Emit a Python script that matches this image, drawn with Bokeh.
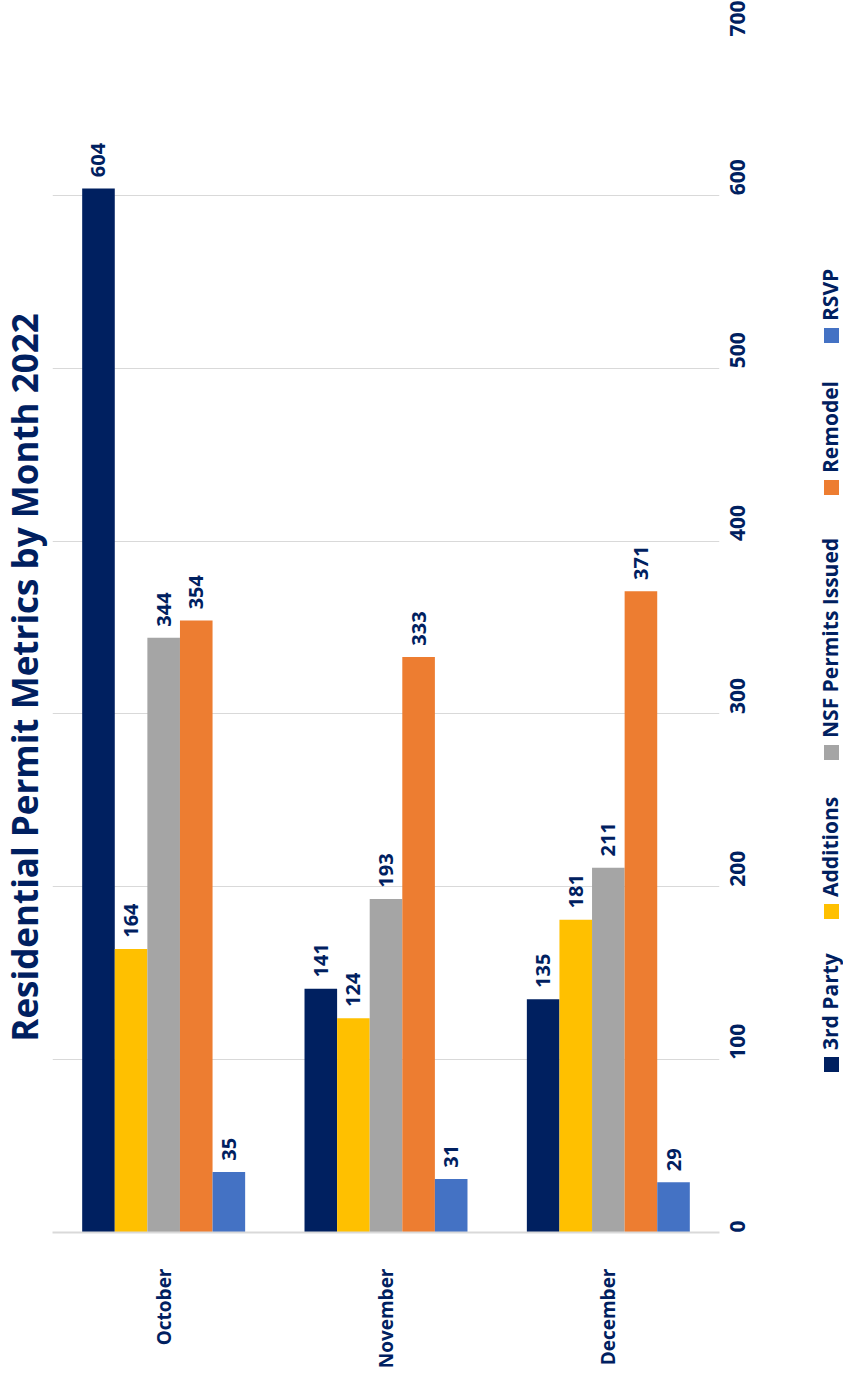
from math import pi
from bokeh.plotting import figure
from bokeh.models import ColumnDataSource, FactorRange, Range1d, FixedTicker
from bokeh.transform import dodge
from bokeh.layouts import row
from bokeh.embed import file_html
from bokeh.resources import INLINE
from bokeh.core.properties import value

months = ["October", "November", "December"]
series_names = ["3rd Party", "Additions", "NSF Permits Issued", "Remodel", "RSVP"]
third_party = [604, 141, 135]
additions = [164, 124, 181]
nsf_permits = [344, 193, 211]
remodel = [354, 333, 371]
rsvp = [35, 31, 29]
value_ticks = [0, 100, 200, 300, 400, 500, 600, 700]
title_text = "Residential Permit Metrics by Month 2022"

colors = ["#002060", "#FFC000", "#A5A5A5", "#ED7D31", "#4472C4"]
NAVY = "#002060"
FONT = "Open Sans"
H = 1379
DY = 20  # observed vertical offset of side strips

series = [third_party, additions, nsf_permits, remodel, rsvp]
keys = ["s0", "s1", "s2", "s3", "s4"]
data = {"month": months}
for k, s in zip(keys, series):
    data[k] = s
    data[k + "_lbl"] = [str(v) for v in s]
    data[k + "_ly"] = [v + 6.5 for v in s]
source = ColumnDataSource(data)

# ---- title strip (rotated title) ----
TW = 52
tf = figure(x_range=Range1d(0, TW), y_range=Range1d(0, H), title=None,
            frame_width=TW, frame_height=H, output_backend="svg",
            toolbar_location=None, min_border=0)
tf.axis.visible = False
tf.grid.grid_line_color = None
tf.outline_line_color = None
tf.text(x=[24], y=[H - 675 + DY], text=[title_text], angle=pi / 2,
        text_align="center", text_baseline="middle", text_font=value(FONT),
        text_font_style="bold", text_font_size="35px", text_color=NAVY)

# ---- main chart ----
p = figure(
    x_range=FactorRange(*months, range_padding=0),
    y_range=Range1d(0, 700), title=None,
    frame_width=667, frame_height=1210,
    y_axis_location="right",
    output_backend="svg", toolbar_location=None,
    min_border_left=0, min_border_right=78,
    min_border_top=22, min_border_bottom=147,
)
p.outline_line_color = None
p.background_fill_color = "white"
p.border_fill_color = "white"

bar_w = 0.1466
offsets = [-2 * bar_w, -bar_w, 0, bar_w, 2 * bar_w]
for k, off, c in zip(keys, offsets, colors):
    p.vbar(x=dodge("month", off, range=p.x_range), top=k, width=bar_w,
           bottom=0, source=source, fill_color=c, line_color=None)
    p.text(x=dodge("month", off, range=p.x_range), y=k + "_ly", text=k + "_lbl",
           source=source, angle=pi / 2, text_align="left", text_baseline="middle",
           text_font=value(FONT), text_font_style="bold", text_font_size="20px",
           text_color=NAVY)

p.xgrid.grid_line_color = None
p.ygrid.grid_line_color = "#D9D9D9"
p.ygrid.grid_line_width = 1
p.yaxis.ticker = FixedTicker(ticks=value_ticks)
p.yaxis.axis_line_color = None
p.yaxis.major_tick_line_color = None
p.yaxis.minor_tick_line_color = None
p.yaxis.major_label_orientation = pi / 2
p.yaxis.major_label_text_font = FONT
p.yaxis.major_label_text_font_style = "bold"
p.yaxis.major_label_text_font_size = "21px"
p.yaxis.major_label_text_color = NAVY
p.yaxis.major_label_standoff = 12

p.xaxis.axis_line_color = "#D9D9D9"
p.xaxis.axis_line_width = 2
p.xaxis.major_tick_line_color = None
p.xaxis.minor_tick_line_color = None
p.xaxis.major_label_orientation = pi / 2
p.xaxis.major_label_text_font = FONT
p.xaxis.major_label_text_font_style = "bold"
p.xaxis.major_label_text_font_size = "19px"
p.xaxis.major_label_text_color = NAVY
p.xaxis.major_label_standoff = 30

# ---- legend strip (rotated), pixel coordinates ----
LW = 46
leg = figure(x_range=Range1d(0, LW), y_range=Range1d(0, H), title=None,
             frame_width=LW, frame_height=H, output_backend="svg",
             toolbar_location=None, min_border=0)
leg.axis.visible = False
leg.grid.grid_line_color = None
leg.outline_line_color = None
leg_square_centers = [1062, 909, 750, 485, 333]  # layout: px from top
sq_x = 34
txt_x = 32
sq = 15
for name, c, cy in zip(series_names, colors, leg_square_centers):
    leg.rect(x=[sq_x], y=[H - cy + DY], width=sq, height=sq, fill_color=c, line_color=None)
    leg.text(x=[txt_x], y=[H - cy + DY + sq / 2 + 7], text=[name], angle=pi / 2,
             text_align="left", text_baseline="middle", text_font=value(FONT),
             text_font_style="bold", text_font_size="21px", text_color=NAVY)

layout = row(tf, p, leg, spacing=0)
open("out.html", "w").write(file_html(layout, INLINE))
